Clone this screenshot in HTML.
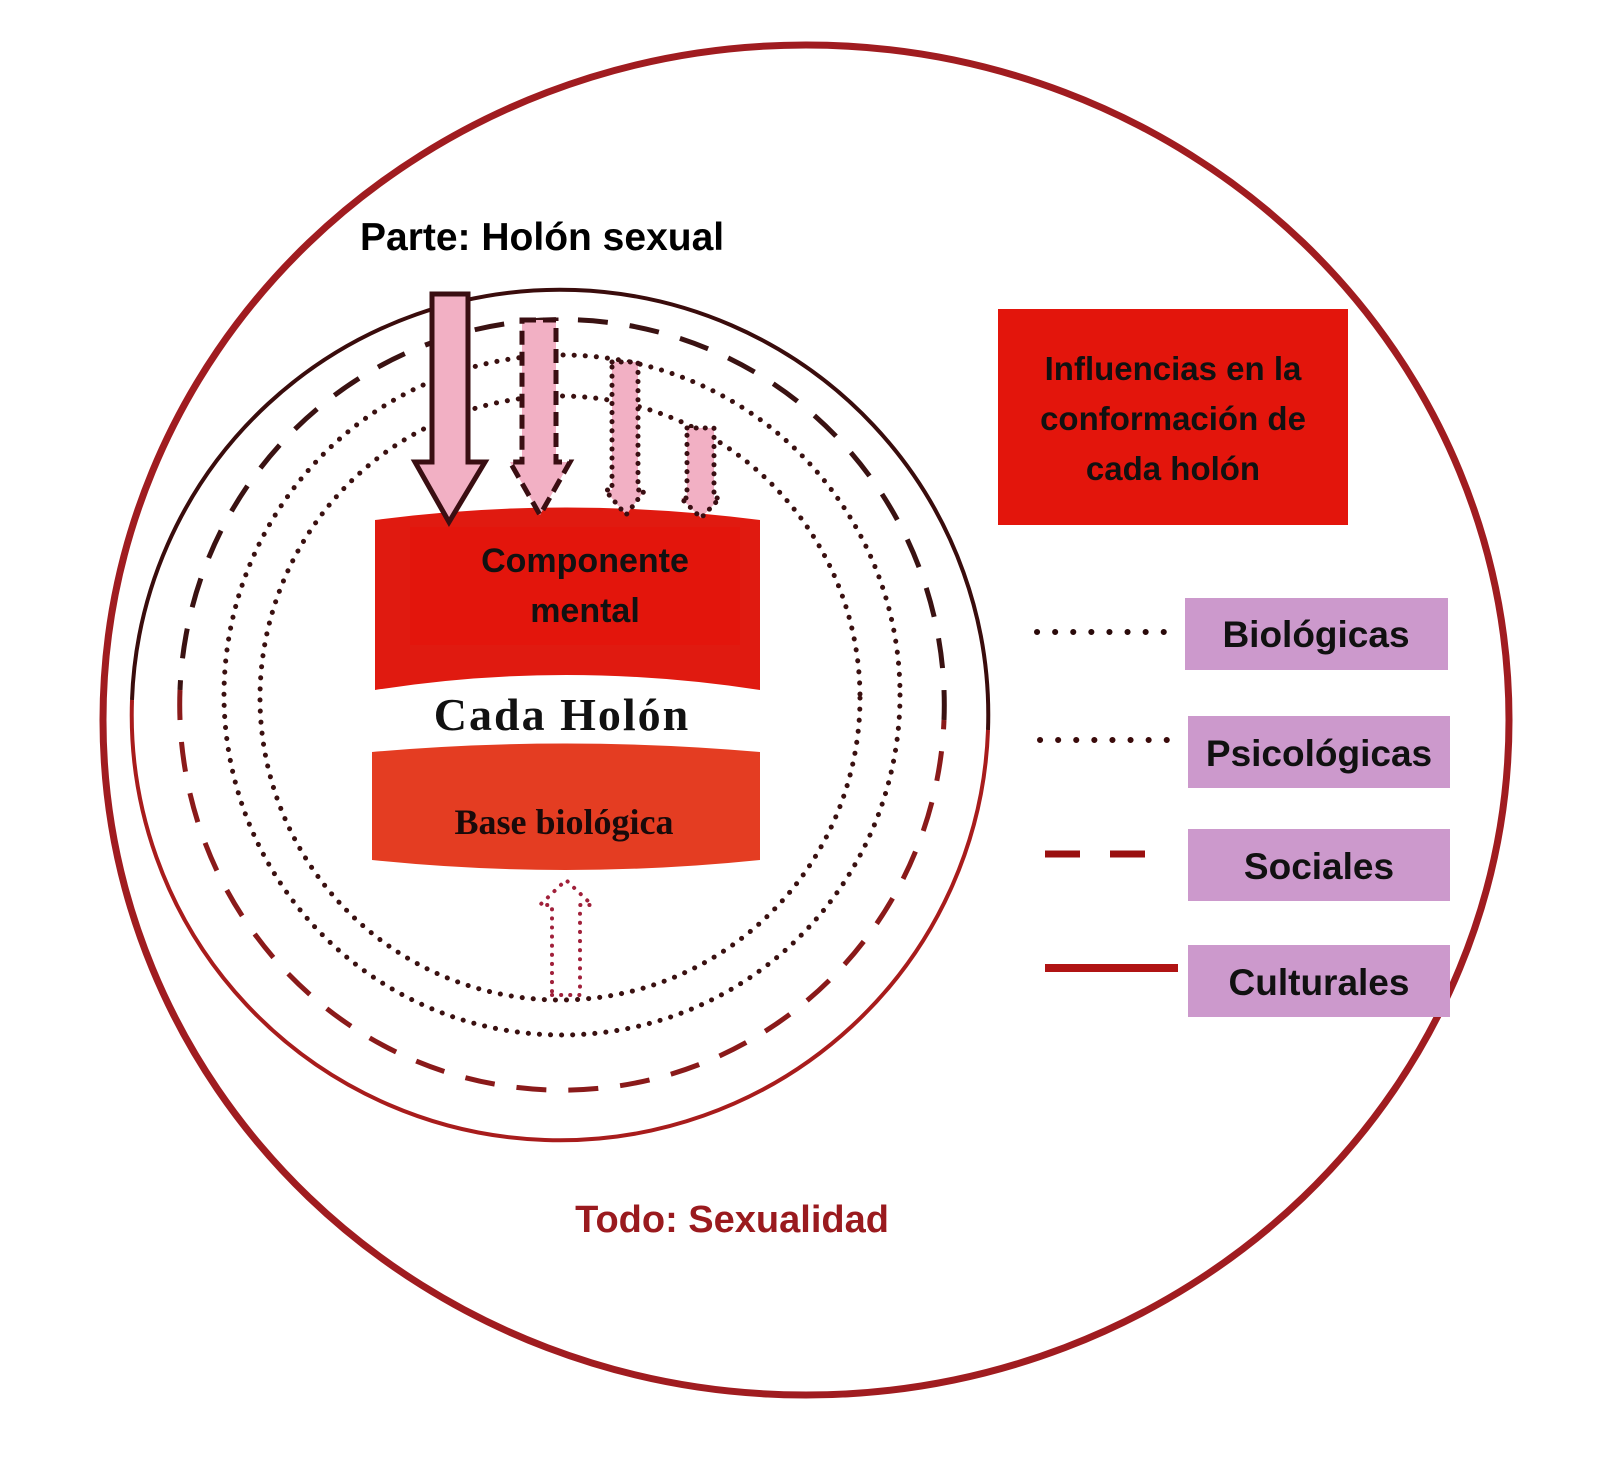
<!DOCTYPE html>
<html><head><meta charset="utf-8"><style>
html,body{margin:0;padding:0;background:#fff;}
svg{display:block;}
text{font-family:"Liberation Sans","DejaVu Sans",sans-serif;font-weight:bold;}
</style></head><body>
<svg width="1600" height="1475" viewBox="0 0 1600 1475" xmlns="http://www.w3.org/2000/svg">
<rect width="1600" height="1475" fill="#fff"/>
<ellipse cx="806" cy="720" rx="703" ry="675" fill="none" stroke="#a01c20" stroke-width="7"/>
<!-- inner solid circle -->
<path d="M988 730 A425 422 0 1 0 132 700" fill="none" stroke="#3a0c0c" stroke-width="4"/>
<path d="M132 700 A425 422 0 0 0 988 730" fill="none" stroke="#a81c1c" stroke-width="4"/>
<!-- dashed circle -->
<path d="M944 720 A382 385 0 1 0 180 690" fill="none" stroke="#3a1212" stroke-width="5" stroke-dasharray="30,22"/>
<path d="M180 690 A382 385 0 0 0 944 720" fill="none" stroke="#8a1a1a" stroke-width="5" stroke-dasharray="30,22"/>
<!-- dotted circles -->
<ellipse cx="562" cy="695" rx="338" ry="340" fill="none" stroke="#3a1010" stroke-width="5" stroke-linecap="round" stroke-dasharray="0.1,11"/>
<ellipse cx="560" cy="698" rx="300" ry="302" fill="none" stroke="#3a1010" stroke-width="5" stroke-linecap="round" stroke-dasharray="0.1,11"/>
<!-- cylinder -->
<path d="M375 520 Q565 495 760 520 L760 690 Q565 660 375 690 Z" fill="#e01a10"/>
<rect x="410" y="527" width="330" height="118" fill="#e3150c"/>
<path d="M372 752 Q565 735 760 752 L760 860 Q565 880 372 860 Z" fill="#e43d22"/>
<!-- arrows -->
<g stroke="#3a0e12" stroke-width="5" fill="#f2b0c4">
<path d="M432 294 L468 294 L468 462 L485 462 L449 522 L415 462 L432 462 Z"/>
<path d="M522 320 L556 320 L556 462 L570 462 L540 515 L510 462 L522 462 Z" stroke-dasharray="14,7"/>
<path d="M612 362 L638 362 L638 490 L645 490 L626 515 L605 490 L612 490 Z" stroke-dasharray="0.1,9" stroke-linecap="round"/>
<path d="M687 428 L714 428 L714 498 L720 498 L701 518 L681 498 L687 498 Z" stroke-dasharray="0.1,9" stroke-linecap="round"/>
</g>
<path d="M552 995 L580 995 L580 905 L592 905 L566 880 L540 905 L552 905 Z" fill="none" stroke="#a0203a" stroke-width="4" stroke-dasharray="0.1,9" stroke-linecap="round"/>
<!-- texts -->
<text x="360" y="250" font-size="39" fill="#000">Parte: Holón sexual</text>
<text x="585" y="572" font-size="34" fill="#111" text-anchor="middle">Componente</text>
<text x="585" y="622" font-size="34" fill="#111" text-anchor="middle">mental</text>
<text x="562" y="730" font-size="46" fill="#111" text-anchor="middle" letter-spacing="2" style="font-family:'Liberation Serif',serif">Cada Holón</text>
<text x="564" y="834" font-size="36" fill="#1a0a0a" text-anchor="middle" style="font-family:'Liberation Serif',serif">Base biológica</text>
<text x="732" y="1232" font-size="38" fill="#9a1a1e" text-anchor="middle">Todo: Sexualidad</text>
<rect x="998" y="309" width="350" height="216" fill="#e3150c"/>
<g font-size="33" fill="#111" text-anchor="middle">
<text x="1173" y="380">Influencias en la</text>
<text x="1173" y="430">conformación de</text>
<text x="1173" y="480">cada holón</text>
</g>
<line x1="1037" y1="632" x2="1165" y2="632" stroke="#2a0a0a" stroke-width="6" stroke-linecap="round" stroke-dasharray="0.1,18"/>
<line x1="1040" y1="740" x2="1170" y2="740" stroke="#3a0a0a" stroke-width="6" stroke-linecap="round" stroke-dasharray="0.1,18"/>
<line x1="1045" y1="854" x2="1080" y2="854" stroke="#9a1010" stroke-width="7"/>
<line x1="1110" y1="854" x2="1145" y2="854" stroke="#9a1010" stroke-width="7"/>
<line x1="1045" y1="968" x2="1178" y2="968" stroke="#b01414" stroke-width="8"/>
<g fill="#cc99cc">
<rect x="1185" y="598" width="263" height="72"/>
<rect x="1188" y="716" width="262" height="72"/>
<rect x="1188" y="829" width="262" height="72"/>
<rect x="1188" y="945" width="262" height="72"/>
</g>
<g font-size="37" fill="#111" text-anchor="middle">
<text x="1316" y="647">Biológicas</text>
<text x="1319" y="766">Psicológicas</text>
<text x="1319" y="879">Sociales</text>
<text x="1319" y="995">Culturales</text>
</g>
</svg>
</body></html>
